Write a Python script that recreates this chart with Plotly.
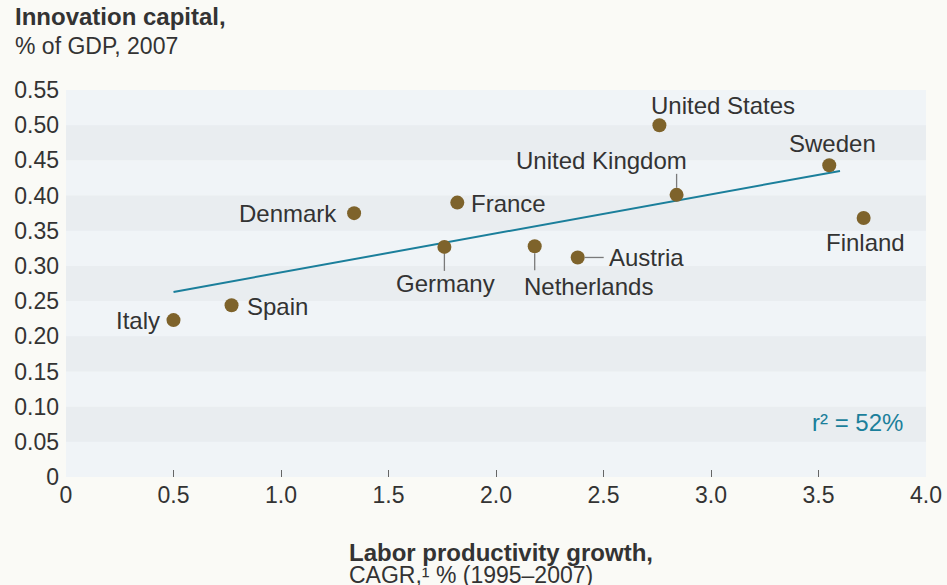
import plotly.graph_objects as go

# ---- data ----
countries = ["Italy", "Spain", "Denmark", "France", "Germany", "Netherlands",
             "Austria", "United States", "United Kingdom", "Sweden", "Finland"]
productivity = [0.50, 0.77, 1.34, 1.82, 1.76, 2.18, 2.38, 2.76, 2.84, 3.55, 3.71]
innovation = [0.223, 0.244, 0.375, 0.390, 0.327, 0.328, 0.312, 0.500, 0.401, 0.443, 0.368]
trend_x = [0.5, 3.6]
trend_y = [0.263, 0.435]
y_ticks = [0, 0.05, 0.10, 0.15, 0.20, 0.25, 0.30, 0.35, 0.40, 0.45, 0.50, 0.55]
y_tick_labels = ["0", "0.05", "0.10", "0.15", "0.20", "0.25", "0.30", "0.35", "0.40", "0.45", "0.50", "0.55"]
x_ticks = [0, 0.5, 1.0, 1.5, 2.0, 2.5, 3.0, 3.5, 4.0]
x_tick_labels = ["0", "0.5", "1.0", "1.5", "2.0", "2.5", "3.0", "3.5", "4.0"]
r2_text = "r² = 52%"

# ---- label placement (style) ----
# name: (xanchor, xshift, yshift, leader) leader = (orientation, start_px, end_px)
label_style = {
    "Italy": ("right", -12, 0, None),
    "Spain": ("left", 13, -1, None),
    "Denmark": ("right", -15, 0, None),
    "France": ("left", 12, -1, None),
    "Germany": ("center", 1, -37, ("v", -7, -24)),
    "Netherlands": ("center", 54, -40, ("v", -7, -24)),
    "Austria": ("left", 29, 0, ("h", 7, 26)),
    "United States": ("center", 64, 20, None),
    "United Kingdom": ("center", -75, 34, ("v", 7, 21)),
    "Sweden": ("center", 3, 22, None),
    "Finland": ("center", 2, -24, None),
}

FONT = "Liberation Sans, Arial, sans-serif"
TEXT = "#333333"
DOT = "#7e632b"
TEAL = "#1b7f9b"
LEADER = "#7a7a7a"

fig = go.Figure()

# alternating bands
shapes = []
for i in range(len(y_ticks) - 1):
    if i % 2 == 1:
        shapes.append(dict(type="rect", xref="paper", yref="y", x0=0, x1=1,
                           y0=y_ticks[i], y1=y_ticks[i + 1],
                           fillcolor="#e9edf0", line=dict(width=0), layer="below"))

fig.add_trace(go.Scatter(x=trend_x, y=trend_y, mode="lines",
                         line=dict(color=TEAL, width=2), hoverinfo="skip"))
fig.add_trace(go.Scatter(x=productivity, y=innovation, mode="markers",
                         marker=dict(color=DOT, size=14), text=countries,
                         hoverinfo="text"))

annotations = []
for name, xv, yv in zip(countries, productivity, innovation):
    xa, xs, ys, leader = label_style[name]
    annotations.append(dict(x=xv, y=yv, xref="x", yref="y", text=name,
                            showarrow=False, xanchor=xa, yanchor="middle",
                            xshift=xs, yshift=ys,
                            font=dict(family=FONT, size=24, color=TEXT)))
    if leader:
        orient, a, b = leader
        if orient == "v":
            shapes.append(dict(type="line", xref="x", yref="y",
                               xsizemode="pixel", ysizemode="pixel",
                               xanchor=xv, yanchor=yv, x0=0, x1=0, y0=a, y1=b,
                               line=dict(color=LEADER, width=1.3)))
        else:
            shapes.append(dict(type="line", xref="x", yref="y",
                               xsizemode="pixel", ysizemode="pixel",
                               xanchor=xv, yanchor=yv, x0=a, x1=b, y0=0, y1=0,
                               line=dict(color=LEADER, width=1.3)))

annotations += [
    dict(x=0.975, y=0.14, xref="paper", yref="paper", text=r2_text, showarrow=False,
         xanchor="right", yanchor="middle", font=dict(family=FONT, size=24, color=TEAL)),
    dict(x=-0.062, y=1.19, xref="paper", yref="paper", text="<b>Innovation capital,</b>",
         showarrow=False, xanchor="left", yanchor="middle",
         font=dict(family=FONT, size=24, color=TEXT)),
    dict(x=-0.062, y=1.114, xref="paper", yref="paper", text="% of GDP, 2007",
         showarrow=False, xanchor="left", yanchor="middle",
         font=dict(family=FONT, size=23, color=TEXT)),
    dict(x=0.327, y=-0.196, xref="paper", yref="paper", text="<b>Labor productivity growth,</b>",
         showarrow=False, xanchor="left", yanchor="middle",
         font=dict(family=FONT, size=24, color=TEXT)),
    dict(x=0.327, y=-0.254, xref="paper", yref="paper", text="CAGR,¹ % (1995–2007)",
         showarrow=False, xanchor="left", yanchor="middle",
         font=dict(family=FONT, size=23, color=TEXT)),
]

fig.update_layout(
    width=947, height=585, autosize=False,
    margin=dict(l=66, r=21, t=90, b=108, pad=0, autoexpand=False),
    paper_bgcolor="#fafaf6", plot_bgcolor="#f0f4f7",
    showlegend=False,
    shapes=shapes, annotations=annotations,
    font=dict(family=FONT, size=23, color=TEXT),
    xaxis=dict(range=[0, 4], tickvals=x_ticks, ticktext=x_tick_labels,
               ticks="inside", ticklen=7, tickcolor="#666666", tickwidth=1,
               showgrid=False, zeroline=False, showline=False, ticklabelstandoff=2,
               automargin=False,
               tickfont=dict(family=FONT, size=23, color=TEXT), fixedrange=True),
    yaxis=dict(range=[0, 0.55], tickvals=y_ticks, ticktext=y_tick_labels,
               ticks="", showgrid=False, zeroline=False, showline=False,
               ticklabelstandoff=6, automargin=False,
               tickfont=dict(family=FONT, size=23, color=TEXT), fixedrange=True),
)

fig.write_html("out.html", config={"displayModeBar": False},
               post_script="document.body.style.margin='0';document.body.style.padding='0';")
